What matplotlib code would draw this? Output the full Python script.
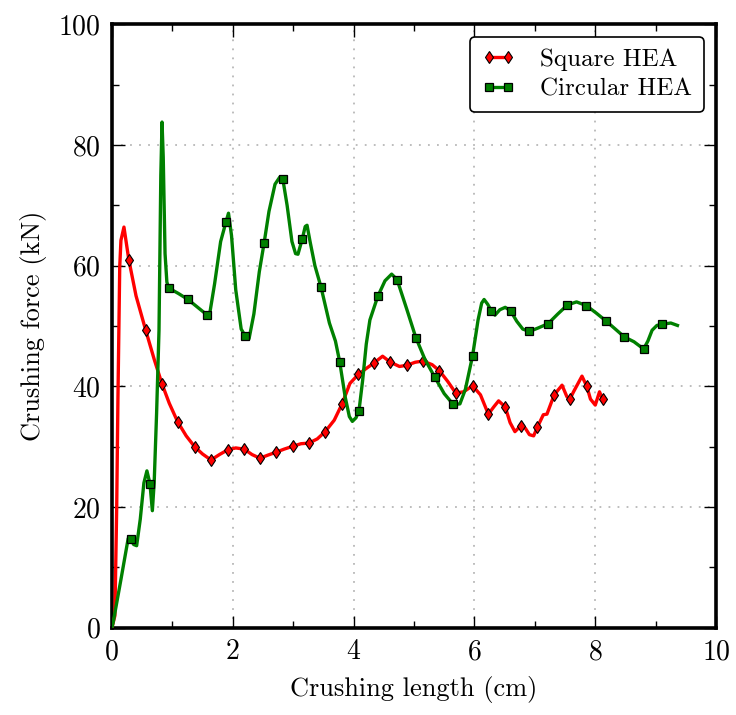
import numpy as np
import matplotlib
matplotlib.use("Agg")
import matplotlib.pyplot as plt

"""
Crushing force vs crushing length for square and circular HEA tubes
"""

# Square HEA (red curve)
sq_x = [0.00, 0.05, 0.08, 0.10, 0.13, 0.15, 0.20, 0.28, 0.40, 0.56, 0.70, 0.83,
        0.95, 1.09, 1.23, 1.37, 1.50, 1.64, 1.78, 1.92, 2.05, 2.19, 2.32, 2.45,
        2.58, 2.72, 2.85, 3.00, 3.13, 3.26, 3.40, 3.53, 3.68, 3.81, 3.94, 4.08,
        4.20, 4.34, 4.48, 4.61, 4.76, 4.88, 5.02, 5.15, 5.30, 5.42, 5.56, 5.69,
        5.82, 5.97, 6.10, 6.23, 6.32, 6.40, 6.51, 6.59, 6.67, 6.77, 6.84, 6.91,
        6.98, 7.04, 7.14, 7.20, 7.32, 7.45, 7.53, 7.58, 7.64, 7.78, 7.86, 7.92,
        8.00, 8.07, 8.12]
sq_y = [0.0, 2.0, 20.0, 37.7, 59.8, 64.2, 66.4, 61.0, 55.0, 49.3, 44.5, 40.4,
        37.2, 34.1, 31.8, 30.0, 28.8, 27.8, 28.7, 29.5, 29.8, 29.6, 28.7, 28.1,
        28.6, 29.1, 29.6, 30.1, 30.5, 30.6, 31.3, 32.5, 34.4, 37.1, 40.5, 42.0,
        42.9, 43.9, 45.0, 44.0, 43.3, 43.5, 44.0, 44.2, 43.6, 42.6, 40.8, 38.9,
        39.1, 40.1, 38.6, 35.4, 36.6, 37.6, 36.6, 34.0, 32.5, 33.5, 33.1, 32.0,
        31.8, 33.2, 35.3, 35.4, 38.6, 40.2, 38.3, 37.9, 39.1, 41.7, 40.0, 37.9,
        36.9, 39.1, 37.9]
sq_marks = [0.28, 0.56, 0.83, 1.09, 1.37, 1.64, 1.92, 2.19, 2.45, 2.72, 3.00,
            3.26, 3.53, 3.81, 4.08, 4.34, 4.61, 4.88, 5.15, 5.42, 5.69, 5.97,
            6.23, 6.51, 6.77, 7.04, 7.32, 7.58, 7.86, 8.12]

# Circular HEA (green curve)
ci_x = [0.00, 0.02, 0.15, 0.27, 0.31, 0.36, 0.41, 0.47, 0.53, 0.58, 0.63, 0.67,
        0.70, 0.74, 0.78, 0.81, 0.83, 0.85, 0.88, 0.91, 0.94, 1.10, 1.26, 1.42,
        1.58, 1.62, 1.70, 1.80, 1.89, 1.93, 1.98, 2.05, 2.14, 2.21, 2.27, 2.35,
        2.44, 2.52, 2.60, 2.70, 2.78, 2.83, 2.90, 2.98, 3.04, 3.08, 3.15, 3.20,
        3.23, 3.28, 3.36, 3.46, 3.60, 3.70, 3.77, 3.86, 3.93, 3.98, 4.04, 4.09,
        4.15, 4.21, 4.27, 4.40, 4.52, 4.63, 4.72, 4.88, 5.03, 5.18, 5.34, 5.50,
        5.65, 5.76, 5.85, 5.97, 6.06, 6.12, 6.16, 6.22, 6.28, 6.34, 6.42, 6.51,
        6.60, 6.70, 6.80, 6.91, 7.06, 7.22, 7.38, 7.54, 7.69, 7.85, 8.01, 8.17,
        8.32, 8.48, 8.64, 8.80, 8.87, 8.94, 9.02, 9.11, 9.25, 9.36]
ci_y = [0.0, 0.8, 8.0, 14.8, 14.7, 13.8, 13.6, 18.0, 24.0, 26.0, 23.9, 19.4,
        24.0, 35.5, 49.3, 75.0, 83.8, 78.0, 62.0, 57.3, 56.3, 55.4, 54.4, 53.1,
        51.8, 52.1, 57.0, 64.0, 67.3, 68.7, 65.0, 56.0, 49.5, 48.3, 47.9, 52.0,
        59.0, 63.8, 69.0, 73.5, 74.7, 74.3, 70.0, 64.0, 62.0, 61.9, 64.4, 66.5,
        66.7, 64.0, 60.0, 56.5, 50.5, 47.5, 44.1, 38.3, 35.0, 34.2, 34.8, 36.0,
        41.0, 47.0, 51.0, 54.9, 57.5, 58.6, 57.7, 52.8, 48.1, 44.5, 41.6, 38.8,
        37.0, 37.1, 39.5, 45.1, 51.0, 53.8, 54.4, 53.6, 52.5, 51.8, 52.7, 53.1,
        52.5, 50.8, 49.5, 49.1, 49.7, 50.4, 52.0, 53.5, 54.0, 53.4, 52.2, 50.9,
        49.6, 48.2, 47.4, 46.2, 47.5, 49.3, 50.1, 50.3, 50.5, 50.1]
ci_marks = [0.31, 0.63, 0.94, 1.26, 1.58, 1.89, 2.21, 2.52, 2.83, 3.15, 3.46,
            3.77, 4.09, 4.40, 4.72, 5.03, 5.34, 5.65, 5.97, 6.28, 6.60, 6.91,
            7.22, 7.54, 7.85, 8.17, 8.48, 8.80, 9.11]


def mark_idx(xs, marks):
    xs = np.asarray(xs)
    return [int(np.argmin(np.abs(xs - m))) for m in marks]


plt.rcParams['font.family'] = 'serif'
plt.rcParams['font.serif'] = ['cmr10', 'DejaVu Serif']
plt.rcParams['mathtext.fontset'] = 'cm'
plt.rcParams['axes.formatter.use_mathtext'] = True

fig = plt.figure(figsize=(7.36, 7.15), dpi=100)
ax = fig.add_axes([0.152, 0.122, 0.821, 0.844])

ax.plot(sq_x, sq_y, color='red', lw=2.4, marker='d', ms=6.5,
        mfc='red', mec='black', mew=0.8, solid_joinstyle='round',
        markevery=mark_idx(sq_x, sq_marks), label='Square HEA', zorder=3)
ax.plot(ci_x, ci_y, color='green', lw=2.4, marker='s', ms=5.5,
        mfc='green', mec='black', mew=0.9, solid_joinstyle='round',
        markevery=mark_idx(ci_x, ci_marks), label='Circular HEA', zorder=3)

ax.set_xlim(0, 10)
ax.set_ylim(0, 100)
ax.set_xticks(np.arange(0, 11, 2))
ax.set_yticks(np.arange(0, 101, 20))
ax.set_xticks(np.arange(1, 10, 2), minor=True)
ax.set_yticks(np.arange(10, 100, 20), minor=True)
ax.tick_params(which='both', direction='in', top=True, right=True,
               labelsize=20, width=1.0)
ax.tick_params(which='major', length=9, pad=8)
ax.tick_params(which='minor', length=5)
for s in ax.spines.values():
    s.set_linewidth(2.6)

ax.grid(True, which='major', ls=(0, (1, 4)), color='0.72', lw=1.3)
ax.set_axisbelow(True)

ax.set_xlabel('Crushing length (cm)', fontsize=19, labelpad=8)
ax.set_ylabel('Crushing force (kN)', fontsize=19, labelpad=8)

leg = ax.legend(loc='upper right', numpoints=2, fontsize=18, fancybox=True,
                framealpha=1, edgecolor='black', borderaxespad=0.5,
                handlelength=1.35, borderpad=0.45, labelspacing=0.3,
                handletextpad=1.0)
leg.get_frame().set_linewidth(1.2)

fig.savefig('out.png', dpi=100)
